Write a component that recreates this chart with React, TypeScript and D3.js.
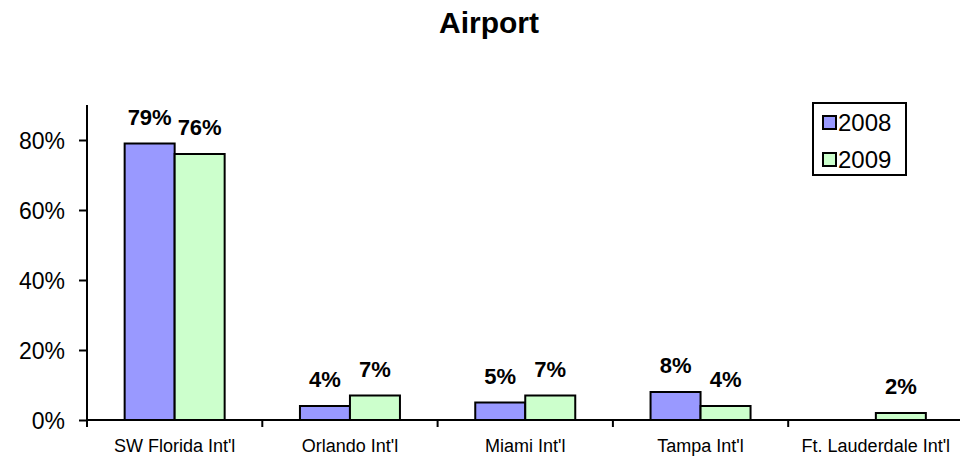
import { useRef, useEffect } from "react";
import * as d3 from "d3";

const airports = ["SW Florida Int'l", "Orlando Int'l", "Miami Int'l", "Tampa Int'l", "Ft. Lauderdale Int'l"];
const years = ["2008", "2009"];
const values2008 = [0.79, 0.04, 0.05, 0.08, null];
const values2009 = [0.76, 0.07, 0.07, 0.04, 0.02];
const yTicks = [0, 0.2, 0.4, 0.6, 0.8];
const colors = ["#9999ff", "#ccffcc"];

const App = () => {
  const svgRef = useRef<SVGSVGElement>(null);

  useEffect(() => {
    const width = 960;
    const height = 457;
    const svg = d3.select(svgRef.current);
    svg.selectAll("*").remove();
    const font = "Arial, 'Liberation Sans', sans-serif";

    const x = d3.scaleBand().domain(airports).range([87, 963.5]);
    const inner = d3.scaleBand().domain(years).range([0, 100]);
    const y = d3.scaleLinear().domain([0, 0.9]).range([420, 105]);

    svg
      .append("text")
      .attr("x", 489)
      .attr("y", 33)
      .attr("text-anchor", "middle")
      .attr("font-family", font)
      .attr("font-weight", "bold")
      .attr("font-size", 30)
      .text("Airport");

    // bars
    const series = [values2008, values2009];
    series.forEach((vals, si) => {
      const g = svg.append("g");
      vals.forEach((v, i) => {
        if (v == null) return;
        const bx = x(airports[i])! + x.bandwidth() / 2 - 50 + inner(years[si])!;
        g.append("rect")
          .attr("x", bx)
          .attr("y", y(v))
          .attr("width", inner.bandwidth())
          .attr("height", y(0) - y(v))
          .attr("fill", colors[si])
          .attr("stroke", "#000")
          .attr("stroke-width", 2);
        g.append("text")
          .attr("x", bx + inner.bandwidth() / 2)
          .attr("y", y(v) - 19)
          .attr("text-anchor", "middle")
          .attr("font-family", font)
          .attr("font-weight", "bold")
          .attr("font-size", 22)
          .text(d3.format(".0%")(v));
      });
    });

    // y axis
    const yAxis = d3.axisLeft(y).tickValues(yTicks).tickFormat(d3.format(".0%")).tickSize(8).tickPadding(14);
    const ya = svg.append("g").attr("transform", "translate(87,0)").call(yAxis);
    ya.select(".domain").attr("d", `M0,${y(0.9)}V${y(0)}`).attr("stroke-width", 2);
    ya.selectAll(".tick line").attr("stroke-width", 2);
    ya.selectAll(".tick text").attr("font-family", font).attr("font-size", 23).attr("fill", "#000").attr("dy", "0.35em");

    // x axis
    const xa = svg.append("g");
    xa.append("line")
      .attr("x1", 87).attr("x2", width)
      .attr("y1", y(0)).attr("y2", y(0))
      .attr("stroke", "#000").attr("stroke-width", 2);
    airports.forEach((a) => {
      xa.append("line")
        .attr("x1", x(a)!).attr("x2", x(a)!)
        .attr("y1", y(0)).attr("y2", y(0) + 7)
        .attr("stroke", "#000").attr("stroke-width", 2);
      xa.append("text")
        .attr("x", x(a)! + x.bandwidth() / 2)
        .attr("y", 452)
        .attr("text-anchor", "middle")
        .attr("font-family", font)
        .attr("font-size", 18)
        .text(a);
    });

    // legend
    const lg = svg.append("g");
    lg.append("rect")
      .attr("x", 813).attr("y", 103).attr("width", 93).attr("height", 72)
      .attr("fill", "#fff").attr("stroke", "#000").attr("stroke-width", 2);
    years.forEach((yr, i) => {
      lg.append("rect")
        .attr("x", 823).attr("y", 116 + i * 37).attr("width", 13).attr("height", 13)
        .attr("fill", colors[i]).attr("stroke", "#000").attr("stroke-width", 2);
      lg.append("text")
        .attr("x", 838).attr("y", 131 + i * 37)
        .attr("font-family", font).attr("font-size", 24)
        .text(yr);
    });

    svg.attr("width", width).attr("height", height);
  }, []);

  return (
    <svg
      ref={svgRef}
      width={960}
      height={457}
      style={{ position: "absolute", left: 0, top: 0, background: "#fff" }}
    ></svg>
  );
};

export default App;
